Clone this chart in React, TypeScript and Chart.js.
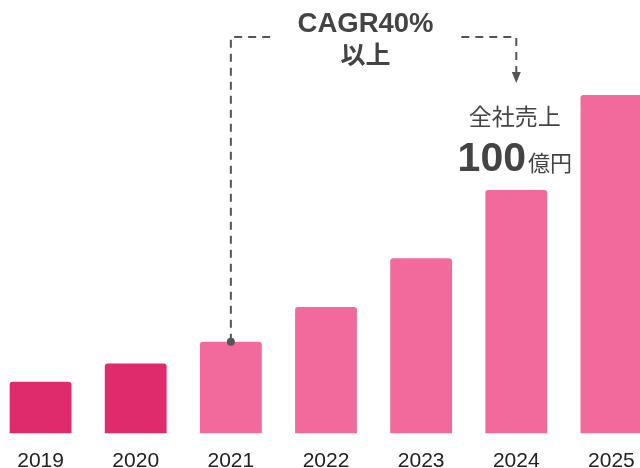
import React, { useEffect, useRef } from "react";
import { Chart, registerables } from "chart.js";

Chart.register(...registerables);

const categories = ["2019", "2020", "2021", "2022", "2023", "2024", "2025"];
const sales = [21.3, 28.7, 37.7, 52, 72, 100, 139];
const barColors = ["#df2a6b", "#df2a6b", "#f26a9b", "#f26a9b", "#f26a9b", "#f26a9b", "#f26a9b"];
const cagrLines = ["CAGR40%", "以上"];
const salesLabel = "全社売上";
const salesValueText = "100";
const salesUnitText = "億円";
const fromIndex = 2;
const toIndex = 5;

const FONT = '"Liberation Sans", "Noto Sans CJK JP", sans-serif';
const INK = "#444444";
const LINE = "#555555";

const annotationPlugin = {
  id: "cagrAnnotation",
  afterDatasetsDraw(chart: any) {
    const { ctx, scales } = chart;
    const x = scales.x;
    const y = scales.y;
    const x1 = x.getPixelForValue(fromIndex);
    const y1 = y.getPixelForValue(sales[fromIndex]);
    const x2 = x.getPixelForValue(toIndex);
    const y2 = y.getPixelForValue(sales[toIndex]);
    const lineY = 37;
    const textCx = (x1 + x2) / 2 - 8;

    ctx.save();
    ctx.strokeStyle = LINE;
    ctx.fillStyle = LINE;
    ctx.lineWidth = 2;
    ctx.setLineDash([8, 6]);
    ctx.beginPath();
    ctx.moveTo(x1, y1);
    ctx.lineTo(x1, lineY);
    ctx.lineTo(x1 + 41, lineY);
    ctx.stroke();
    ctx.beginPath();
    ctx.moveTo(x2 - 55, lineY);
    ctx.lineTo(x2, lineY);
    ctx.lineTo(x2, 73);
    ctx.stroke();
    ctx.setLineDash([]);
    ctx.beginPath();
    ctx.moveTo(x2 - 4.5, 72);
    ctx.lineTo(x2 + 4.5, 72);
    ctx.lineTo(x2, 83);
    ctx.closePath();
    ctx.fill();
    ctx.beginPath();
    ctx.arc(x1, y1, 4, 0, Math.PI * 2);
    ctx.fill();

    ctx.fillStyle = INK;
    ctx.textAlign = "center";
    ctx.textBaseline = "alphabetic";
    ctx.font = `bold 27.5px ${FONT}`;
    ctx.fillText(cagrLines[0], textCx, 31.5);
    ctx.font = `bold 25px ${FONT}`;
    ctx.fillText(cagrLines[1], textCx, 64);

    ctx.font = `23px ${FONT}`;
    ctx.fillText(salesLabel, x2 - 1.5, y2 - 65);
    ctx.font = `bold 41px ${FONT}`;
    const w1 = ctx.measureText(salesValueText).width;
    ctx.font = `22px ${FONT}`;
    const w2 = ctx.measureText(salesUnitText).width;
    const total = w1 + 2 + w2;
    const startX = x2 - 1.5 - total / 2;
    ctx.textAlign = "left";
    ctx.font = `bold 41px ${FONT}`;
    ctx.fillText(salesValueText, startX, y2 - 19);
    ctx.font = `22px ${FONT}`;
    ctx.fillText(salesUnitText, startX + w1 + 2, y2 - 19);
    ctx.restore();
  },
};

export default function App() {
  const ref = useRef<HTMLCanvasElement | null>(null);
  useEffect(() => {
    if (!ref.current) return;
    const chart = new Chart(ref.current, {
      type: "bar",
      data: {
        labels: categories,
        datasets: [
          {
            data: sales,
            backgroundColor: barColors,
            borderRadius: 3,
            barPercentage: 0.65,
            categoryPercentage: 1,
          },
        ],
      },
      options: {
        responsive: false,
        animation: false,
        devicePixelRatio: 1,
        layout: { padding: { top: 43.9, left: 0, right: 0, bottom: 0 } },
        plugins: { legend: { display: false }, tooltip: { enabled: false } },
        scales: {
          x: {
            grid: { display: false, drawTicks: false },
            border: { display: false },
            ticks: {
              color: "#222222",
              font: { family: FONT, size: 21 },
              padding: 15,
              maxRotation: 0,
              autoSkip: false,
            },
            afterFit(scale: any) {
              scale.height = 34.5;
            },
          },
          y: {
            display: false,
            min: 0,
            max: 160,
          },
        },
      },
      plugins: [annotationPlugin],
    });
    return () => chart.destroy();
  }, []);

  return (
    <div
      style={{
        position: "fixed",
        left: 0,
        top: 0,
        width: 640,
        height: 468,
        overflow: "hidden",
        background: "#ffffff",
      }}
    >
      <canvas
        ref={ref}
        width={666}
        height={468}
        style={{ position: "absolute", left: -7, top: 0, width: 666, height: 468 }}
      />
    </div>
  );
}
